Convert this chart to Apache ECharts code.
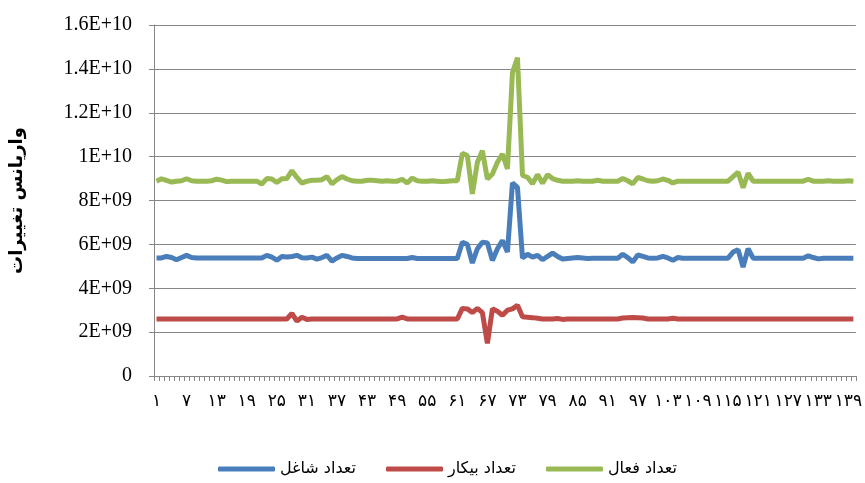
<!DOCTYPE html>
<html>
<head>
<meta charset="utf-8">
<script src="https://cdn.jsdelivr.net/npm/echarts@6/dist/echarts.min.js"></script>
<style>
  html, body { margin: 0; padding: 0; background: #fff; }
  #chart { width: 865px; height: 483px; }
</style>
</head>
<body>
<div id="chart"></div>
<script>
// values in units of 1E+09
const shaghel = [
  5.38, 5.38, 5.45, 5.40, 5.30, 5.40, 5.50, 5.40, 5.38, 5.38,
  5.38, 5.38, 5.38, 5.38, 5.38, 5.38, 5.38, 5.38, 5.38, 5.38,
  5.38, 5.38, 5.50, 5.42, 5.28, 5.45, 5.42, 5.45, 5.50, 5.39,
  5.38, 5.42, 5.33, 5.40, 5.50, 5.24, 5.38, 5.50, 5.45, 5.38,
  5.36, 5.36, 5.36, 5.36, 5.36, 5.36, 5.36, 5.36, 5.36, 5.36,
  5.36, 5.40, 5.36, 5.36, 5.36, 5.36, 5.36, 5.36, 5.36, 5.36,
  5.36, 6.10, 6.00, 5.15, 5.80, 6.10, 6.06, 5.27, 5.80, 6.18,
  5.65, 8.80, 8.60, 5.38, 5.55, 5.42, 5.50, 5.30, 5.45, 5.60,
  5.45, 5.33, 5.36, 5.38, 5.40, 5.38, 5.36, 5.37, 5.37, 5.37,
  5.37, 5.37, 5.37, 5.55, 5.40, 5.20, 5.52, 5.45, 5.38, 5.37,
  5.38, 5.45, 5.38, 5.28, 5.40, 5.37, 5.37, 5.37, 5.37, 5.37,
  5.37, 5.37, 5.37, 5.37, 5.37, 5.65, 5.76, 4.97, 5.80, 5.37,
  5.37, 5.37, 5.37, 5.37, 5.37, 5.37, 5.37, 5.37, 5.37, 5.37,
  5.48, 5.40, 5.34, 5.37, 5.37, 5.37, 5.37, 5.37, 5.37, 5.37
];
const bikar = [
  2.60, 2.60, 2.60, 2.60, 2.60, 2.60, 2.60, 2.60, 2.60, 2.60,
  2.60, 2.60, 2.60, 2.60, 2.60, 2.60, 2.60, 2.60, 2.60, 2.60,
  2.60, 2.60, 2.60, 2.60, 2.60, 2.60, 2.60, 2.85, 2.50, 2.68,
  2.58, 2.60, 2.60, 2.60, 2.60, 2.60, 2.60, 2.60, 2.60, 2.60,
  2.60, 2.60, 2.60, 2.60, 2.60, 2.60, 2.60, 2.60, 2.60, 2.68,
  2.60, 2.60, 2.60, 2.60, 2.60, 2.60, 2.60, 2.60, 2.60, 2.60,
  2.60, 3.08, 3.06, 2.89, 3.08, 2.89, 1.49, 3.06, 2.95, 2.77,
  3.00, 3.06, 3.23, 2.70, 2.68, 2.66, 2.63, 2.60, 2.60, 2.60,
  2.62, 2.58, 2.60, 2.60, 2.60, 2.60, 2.60, 2.60, 2.60, 2.60,
  2.60, 2.60, 2.60, 2.64, 2.66, 2.67, 2.66, 2.64, 2.60, 2.60,
  2.60, 2.60, 2.60, 2.63, 2.60, 2.60, 2.60, 2.60, 2.60, 2.60,
  2.60, 2.60, 2.60, 2.60, 2.60, 2.60, 2.60, 2.60, 2.60, 2.60,
  2.60, 2.60, 2.60, 2.60, 2.60, 2.60, 2.60, 2.60, 2.60, 2.60,
  2.60, 2.60, 2.60, 2.60, 2.60, 2.60, 2.60, 2.60, 2.60, 2.60
];
const faal = [
  8.88, 8.99, 8.92, 8.84, 8.88, 8.90, 8.99, 8.90, 8.88, 8.88,
  8.88, 8.90, 8.97, 8.93, 8.86, 8.88, 8.88, 8.88, 8.88, 8.88,
  8.88, 8.75, 9.00, 8.98, 8.82, 8.99, 9.00, 9.36, 9.05, 8.79,
  8.88, 8.92, 8.92, 8.95, 9.09, 8.76, 8.95, 9.09, 8.98, 8.90,
  8.88, 8.88, 8.92, 8.92, 8.90, 8.88, 8.90, 8.88, 8.88, 8.97,
  8.80, 9.02, 8.90, 8.88, 8.88, 8.90, 8.88, 8.86, 8.88, 8.90,
  8.90, 10.15, 10.05, 8.30, 9.74, 10.27, 8.98, 9.21, 9.74, 10.12,
  9.44, 13.83, 14.51, 9.14, 9.06, 8.76, 9.18, 8.79, 9.17, 9.00,
  8.92, 8.88, 8.88, 8.88, 8.90, 8.88, 8.88, 8.88, 8.92, 8.88,
  8.88, 8.88, 8.88, 9.00, 8.90, 8.76, 9.05, 8.98, 8.90, 8.88,
  8.90, 8.98, 8.92, 8.80, 8.88, 8.88, 8.88, 8.88, 8.88, 8.88,
  8.88, 8.88, 8.88, 8.88, 8.88, 9.09, 9.29, 8.58, 9.24, 8.88,
  8.88, 8.88, 8.88, 8.88, 8.88, 8.88, 8.88, 8.88, 8.88, 8.88,
  8.97, 8.88, 8.88, 8.88, 8.90, 8.88, 8.88, 8.88, 8.90, 8.88
];
const categories = shaghel.map((_, i) => String(i + 1));
const seriesNames = ['تعداد شاغل', 'تعداد بیکار', 'تعداد فعال'];
const yTitle = 'واریانس تغییرات';

const faDigits = '۰۱۲۳۴۵۶۷۸۹';
function toFa(s) {
  return String(s).replace(/[0-9]/g, d => faDigits[+d]);
}
function excelSci(v) {
  if (v === 0) return '0';
  const x = v * 1e9;
  const exp = Math.floor(Math.log10(x) + 1e-9);
  const mant = parseFloat((x / Math.pow(10, exp)).toFixed(1));
  return mant + 'E+' + (exp < 10 ? '0' + exp : exp);
}

const gray = '#868686';
const chart = echarts.init(document.getElementById('chart'));
chart.setOption({
  backgroundColor: '#fff',
  animation: false,
  color: ['#4A7EBB', '#BE4B48', '#98B954'],
  grid: { left: 152, right: 0, top: 25, bottom: 107 },
  legend: {
    bottom: 1,
    left: 213,
    itemWidth: 57,
    itemHeight: 5,
    itemGap: 30,
    icon: 'roundRect',
    textStyle: { fontFamily: 'DejaVu Sans', fontSize: 16, color: '#000' },
    data: seriesNames
  },
  xAxis: {
    type: 'category',
    data: categories,
    boundaryGap: true,
    axisLine: { lineStyle: { color: gray, width: 1 } },
    axisTick: { show: true, interval: 0, length: 5, lineStyle: { color: gray } },
    axisLabel: {
      interval: 5,
      margin: 17,
      fontFamily: 'DejaVu Sans',
      fontSize: 17,
      color: '#000',
      formatter: v => toFa(v)
    },
    splitLine: { show: false }
  },
  yAxis: {
    type: 'value',
    min: 0,
    max: 16,
    interval: 2,
    name: yTitle,
    nameLocation: 'middle',
    nameGap: 128,
    nameTextStyle: { fontFamily: 'DejaVu Sans', fontSize: 18, fontWeight: 'bold', color: '#000' },
    axisLine: { show: true, lineStyle: { color: gray, width: 1 } },
    axisTick: { show: true, length: 5, lineStyle: { color: gray } },
    axisLabel: {
      margin: 22,
      fontFamily: 'Liberation Serif',
      fontSize: 20,
      color: '#000',
      formatter: excelSci
    },
    splitLine: { lineStyle: { color: gray, width: 1 } }
  },
  series: [
    { name: seriesNames[0], type: 'line', data: shaghel, symbol: 'none', lineStyle: { width: 5 } },
    { name: seriesNames[1], type: 'line', data: bikar, symbol: 'none', lineStyle: { width: 5 } },
    { name: seriesNames[2], type: 'line', data: faal, symbol: 'none', lineStyle: { width: 5 } }
  ]
});
</script>
</body>
</html>
